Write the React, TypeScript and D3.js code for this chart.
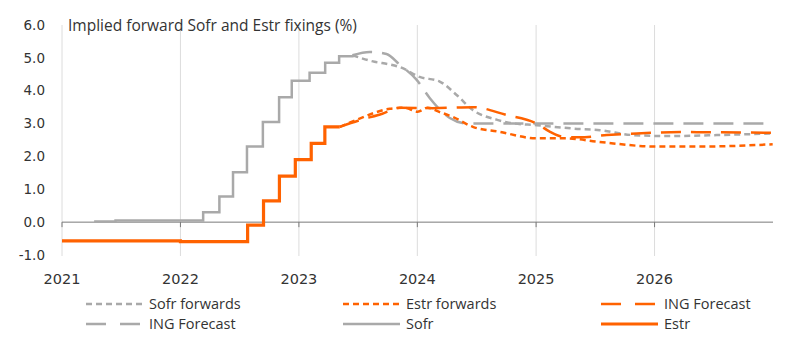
import React, { useRef, useEffect } from 'react';
import * as d3 from 'd3';

type Pt = [string, number];

// historical fixings (step change dates)
const sofr: Pt[] = [
  ['2021-04-10', 0.02], ['2021-06-15', 0.05], ['2022-03-12', 0.3], ['2022-05-01', 0.78],
  ['2022-06-12', 1.52], ['2022-07-25', 2.3], ['2022-09-12', 3.05], ['2022-11-01', 3.8],
  ['2022-12-10', 4.3], ['2023-02-03', 4.55], ['2023-03-23', 4.85], ['2023-05-05', 5.05],
  ['2023-06-15', 5.08],
];

const estr: Pt[] = [
  ['2021-01-01', -0.57], ['2022-01-01', -0.59], ['2022-07-27', -0.09], ['2022-09-14', 0.65],
  ['2022-11-02', 1.4], ['2022-12-21', 1.9], ['2023-02-08', 2.4], ['2023-03-22', 2.9],
  ['2023-05-07', 2.9],
];

const sofrForwards: Pt[] = [
  ['2023-06-15', 5.08], ['2023-08-22', 4.88], ['2023-10-08', 4.8], ['2023-11-08', 4.72],
  ['2024-01-08', 4.42], ['2024-03-10', 4.28], ['2024-05-01', 3.87], ['2024-06-20', 3.41],
  ['2024-09-01', 3.12], ['2024-10-12', 3.02], ['2025-01-03', 2.95], ['2025-04-23', 2.85],
  ['2025-07-17', 2.8], ['2025-10-26', 2.65], ['2026-02-08', 2.62], ['2026-07-12', 2.65],
  ['2026-12-31', 2.7],
];

const sofrIng: Pt[] = [
  ['2023-06-15', 5.08], ['2023-08-07', 5.18], ['2023-09-28', 5.12], ['2023-11-08', 4.79],
  ['2023-12-30', 4.33], ['2024-02-08', 3.78], ['2024-04-10', 3.17], ['2024-06-02', 3.0],
  ['2026-12-31', 3.0],
];

const estrForwards: Pt[] = [
  ['2023-05-07', 2.9], ['2023-07-07', 3.15], ['2023-08-22', 3.33], ['2023-10-08', 3.45],
  ['2023-11-24', 3.48], ['2024-01-02', 3.36], ['2024-02-02', 3.48], ['2024-03-10', 3.35],
  ['2024-04-20', 3.2], ['2024-06-20', 2.9], ['2024-09-10', 2.75], ['2025-01-03', 2.55],
  ['2025-04-05', 2.55], ['2025-07-07', 2.45], ['2026-01-08', 2.3], ['2026-05-20', 2.3],
  ['2026-12-31', 2.37],
];

const estrIng: Pt[] = [
  ['2023-05-07', 2.9], ['2023-07-07', 3.1], ['2023-09-15', 3.3], ['2023-11-08', 3.48],
  ['2024-02-17', 3.47], ['2024-06-20', 3.5], ['2024-10-02', 3.26], ['2025-01-03', 3.0],
  ['2025-02-13', 2.75], ['2025-03-25', 2.6], ['2025-05-15', 2.58], ['2025-08-07', 2.65],
  ['2025-11-07', 2.7], ['2026-03-28', 2.74], ['2026-12-31', 2.72],
];

const yTicks = [-1, 0, 1, 2, 3, 4, 5, 6];
const xYears = [2021, 2022, 2023, 2024, 2025, 2026];

const GREY = '#a9a9a9';
const ORANGE = '#ff6200';
const SHORT = '6,4';
const LONG = '20,10';

const App: React.FC = () => {
  const svgRef = useRef<SVGSVGElement | null>(null);

  useEffect(() => {
    if (!svgRef.current) return;
    const svg = d3.select(svgRef.current);
    svg.selectAll('*').remove();

    const textFont = '"Open Sans", Lato, sans-serif';
    const axisFont = '"DejaVu Sans", Verdana, sans-serif';
    const x = d3.scaleTime()
      .domain([new Date(2021, 0, 1), new Date(2027, 0, 1)])
      .range([62, 773]);
    const y = d3.scaleLinear().domain([-1, 6]).range([255, 25]);
    const parse = d3.timeParse('%Y-%m-%d');

    // vertical gridlines
    svg.append('g').selectAll('line').data(xYears).enter().append('line')
      .attr('x1', d => x(new Date(d, 0, 1))).attr('x2', d => x(new Date(d, 0, 1)))
      .attr('y1', y(6)).attr('y2', y(-1) + 1)
      .attr('stroke', '#dcdcdc').attr('stroke-width', 1);

    // zero line + ticks
    svg.append('line')
      .attr('x1', x.range()[0]).attr('x2', x.range()[1])
      .attr('y1', y(0)).attr('y2', y(0))
      .attr('stroke', '#7a7a7a').attr('stroke-width', 1);
    svg.append('g').selectAll('line').data(xYears).enter().append('line')
      .attr('x1', d => x(new Date(d, 0, 1))).attr('x2', d => x(new Date(d, 0, 1)))
      .attr('y1', y(0)).attr('y2', y(0) + 5)
      .attr('stroke', '#7a7a7a').attr('stroke-width', 1);

    // y labels
    svg.append('g').selectAll('text').data(yTicks).enter().append('text')
      .attr('x', 45).attr('y', d => y(d)).attr('dy', '0.35em')
      .attr('text-anchor', 'end')
      .style('font-family', axisFont).style('font-size', '13.5px').attr('fill', '#333')
      .text(d => d.toFixed(1));

    // x labels
    svg.append('g').selectAll('text').data(xYears).enter().append('text')
      .attr('x', d => x(new Date(d, 0, 1))).attr('y', 279).attr('dy', '0.35em')
      .attr('text-anchor', 'middle')
      .style('font-family', axisFont).style('font-size', '14.5px').attr('fill', '#333')
      .text(d => String(d));

    // title
    svg.append('text')
      .attr('x', 68).attr('y', 26).attr('dy', '0.35em')
      .style('font-family', textFont).style('font-size', '15.5px').attr('fill', '#333')
      .text('Implied forward Sofr and Estr fixings (%)');

    const lineStep = d3.line<Pt>()
      .x(d => x(parse(d[0]) as Date)).y(d => y(d[1]))
      .curve(d3.curveStepAfter);
    const lineSmooth = d3.line<Pt>()
      .x(d => x(parse(d[0]) as Date)).y(d => y(d[1]))
      .curve(d3.curveMonotoneX);

    const series = [
      { data: sofrForwards, gen: lineSmooth, color: GREY, w: 2.5, dash: SHORT },
      { data: sofrIng, gen: lineSmooth, color: GREY, w: 2.5, dash: LONG },
      { data: sofr, gen: lineStep, color: GREY, w: 2.5, dash: null },
      { data: estrForwards, gen: lineSmooth, color: ORANGE, w: 2.5, dash: SHORT },
      { data: estrIng, gen: lineSmooth, color: ORANGE, w: 2.5, dash: LONG },
      { data: estr, gen: lineStep, color: ORANGE, w: 3.2, dash: null },
    ];

    series.forEach(s => {
      svg.append('path')
        .attr('d', s.gen(s.data) as string)
        .attr('fill', 'none')
        .attr('stroke', s.color)
        .attr('stroke-width', s.w)
        .attr('stroke-dasharray', s.dash ?? null);
    });

    // legend
    const legend = [
      { label: 'Sofr forwards', color: GREY, dash: SHORT, w: 2.5, col: 0, row: 0 },
      { label: 'Estr forwards', color: ORANGE, dash: SHORT, w: 2.5, col: 1, row: 0 },
      { label: 'ING Forecast', color: ORANGE, dash: LONG, w: 2.5, col: 2, row: 0 },
      { label: 'ING Forecast', color: GREY, dash: LONG, w: 2.5, col: 0, row: 1 },
      { label: 'Sofr', color: GREY, dash: null, w: 2.5, col: 1, row: 1 },
      { label: 'Estr', color: ORANGE, dash: null, w: 3.2, col: 2, row: 1 },
    ];
    const colX = [86, 343, 601];
    const rowY = [304, 324];
    const lg = svg.append('g');
    legend.forEach(l => {
      const lx = colX[l.col];
      const ly = rowY[l.row];
      lg.append('line')
        .attr('x1', lx).attr('x2', lx + 57).attr('y1', ly).attr('y2', ly)
        .attr('stroke', l.color).attr('stroke-width', l.w)
        .attr('stroke-dasharray', l.dash === LONG ? '20,14' : l.dash ?? null);
      lg.append('text')
        .attr('x', lx + 63).attr('y', ly).attr('dy', '0.35em')
        .style('font-family', textFont).style('font-size', '14.5px').attr('fill', '#333')
        .text(l.label);
    });
  }, []);

  return (
    <svg ref={svgRef} width={800} height={350}
      style={{ position: 'absolute', left: 0, top: 0, background: '#fff' }} />
  );
};

export default App;
